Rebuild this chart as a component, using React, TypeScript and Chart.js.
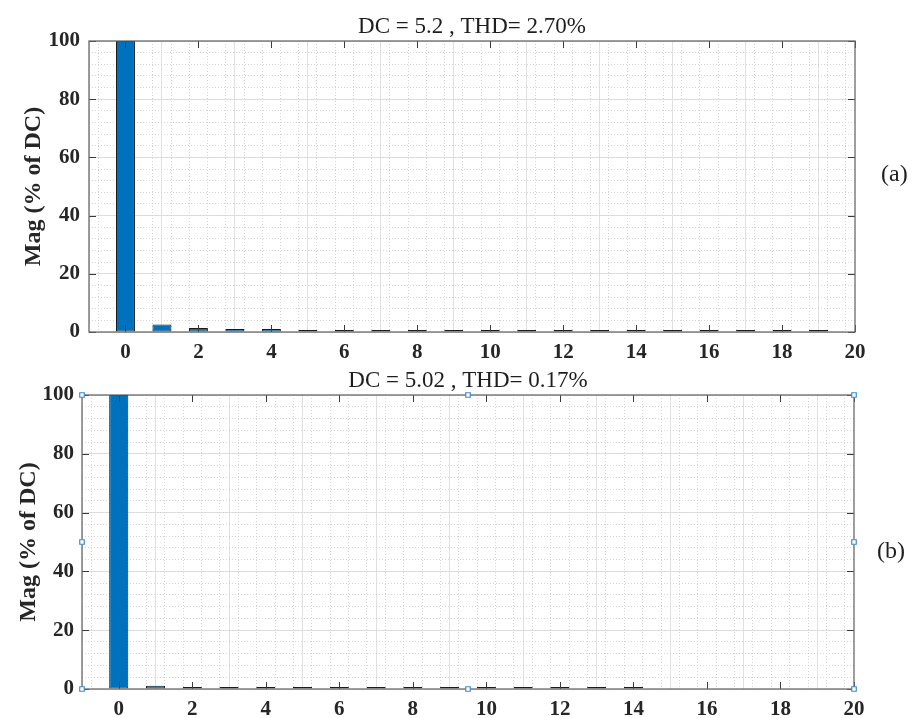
import React, { useEffect, useRef } from "react";
import { Chart, registerables } from "chart.js";

Chart.register(...registerables);

// Harmonic order on the x axis
const harmonicOrder = [0, 1, 2, 3, 4, 5, 6, 7, 8, 9, 10, 11, 12, 13, 14, 15, 16, 17, 18, 19];

// Magnitude of each harmonic, % of DC
const magnitudeA = [100, 2.6, 1.4, 1.0, 1.0, 0.7, 0.7, 0.7, 0.7, 0.7, 0.7, 0.7, 0.7, 0.7, 0.7, 0.7, 0.7, 0.7, 0.7, 0.7];
const magnitudeB = [100, 1.1, 0.7, 0.7, 0.7, 0.7, 0.7, 0.7, 0.7, 0.7, 0.7, 0.7, 0.7, 0.7, 0.7, 0, 0, 0, 0, 0];

const titleA = "DC = 5.2 , THD= 2.70%";
const titleB = "DC = 5.02 , THD= 0.17%";
const yAxisLabel = "Mag (% of DC)";

// Axis selection handles shown on the lower panel
const handleX = [-1, -1, -1, 9.5, 9.5, 20, 20, 20];
const handleY = [100, 50, 0, 100, 0, 100, 50, 0];

const X_MIN = -1;
const X_MAX = 20;
const Y_MIN = 0;
const Y_MAX = 100;

const SERIF = '"Liberation Serif", "Times New Roman", serif';

type PanelProps = {
  top: number;
  height: number;
  area: { left: number; right: number; top: number; bottom: number };
  values: number[];
  title: string;
  tag: string;
  tagX: number;
  tagY: number;
  yTitlePad: number;
  yTickPad: number;
  handles: boolean;
};

function Panel(props: PanelProps) {
  const ref = useRef<HTMLCanvasElement | null>(null);

  useEffect(() => {
    const canvas = ref.current;
    if (!canvas) return;
    const W = 913;
    const H = props.height;
    const a = props.area;

    // frame + inward tick marks, drawn right after the bars
    const framePlugin = {
      id: "frame",
      afterDatasetDraw(chart: any, args: any) {
        if (args.meta.type !== "bar") return;
        const { ctx, chartArea } = chart;
        const { left, right, top, bottom } = chartArea;
        const xs = chart.scales.x;
        const ys = chart.scales.y;
        ctx.save();
        ctx.strokeStyle = "#3a3a3a";
        ctx.lineWidth = 1;
        ctx.beginPath();
        for (let v = 0; v <= X_MAX; v += 2) {
          const px = Math.round(xs.getPixelForValue(v)) + 0.5;
          ctx.moveTo(px, bottom);
          ctx.lineTo(px, bottom - 7);
          ctx.moveTo(px, top);
          ctx.lineTo(px, top + 7);
        }
        for (let v = Y_MIN; v <= Y_MAX; v += 20) {
          const py = Math.round(ys.getPixelForValue(v)) + 0.5;
          ctx.moveTo(left, py);
          ctx.lineTo(left + 7, py);
          ctx.moveTo(right, py);
          ctx.lineTo(right - 7, py);
        }
        ctx.stroke();
        ctx.strokeStyle = "#6a6a6a";
        ctx.lineWidth = 1.3;
        ctx.strokeRect(left, top, right - left, bottom - top);
        ctx.restore();
      },
      afterDraw(chart: any) {
        const { ctx, chartArea } = chart;
        ctx.save();
        ctx.fillStyle = "#1e1e1e";
        ctx.font = `23px ${SERIF}`;
        ctx.textAlign = "center";
        ctx.textBaseline = "alphabetic";
        ctx.fillText(props.title, (chartArea.left + chartArea.right) / 2, chartArea.top - 8);
        ctx.font = `24px ${SERIF}`;
        ctx.textAlign = "left";
        ctx.fillText(props.tag, props.tagX, props.tagY);
        ctx.restore();
      },
    };

    const datasets: any[] = [];
    if (props.handles) {
      datasets.push({
        type: "scatter",
        data: handleX.map((x, i) => ({ x, y: handleY[i] })),
        pointStyle: "rect",
        pointRadius: 3.2,
        pointBackgroundColor: "#ffffff",
        pointBorderColor: "#3b8bd4",
        pointBorderWidth: 1.2,
        clip: false,
      });
    }
    datasets.push({
      type: "bar",
      data: harmonicOrder.map((x, i) => ({ x, y: props.values[i] })),
      backgroundColor: "#0072BD",
      borderColor: "#1b1b1b",
      borderWidth: 1,
      borderSkipped: false,
      barPercentage: 0.52,
      categoryPercentage: 1,
    });

    const chart = new Chart(canvas, {
      type: "bar",
      data: { datasets },
      plugins: [framePlugin],
      options: {
        responsive: false,
        maintainAspectRatio: false,
        animation: false,
        devicePixelRatio: 1,
        layout: {
          padding: { left: 0, right: W - a.right, top: a.top, bottom: 0 },
        },
        plugins: {
          legend: { display: false },
          title: { display: false },
          tooltip: { enabled: false },
        },
        scales: {
          x: {
            type: "linear",
            position: "bottom",
            min: X_MIN,
            max: X_MAX,
            offset: false,
            ticks: {
              stepSize: 2,
              includeBounds: false,
              padding: 8,
              color: "#262626",
              font: { family: SERIF, size: 21, weight: "bold" },
              maxRotation: 0,
            },
            grid: { color: "#e0e0e0", lineWidth: 1, drawTicks: false },
            border: { display: false },
            afterFit: (s: any) => {
              s.height = H - a.bottom;
            },
          },
          xMinor: {
            type: "linear",
            position: "bottom",
            min: X_MIN,
            max: X_MAX,
            offset: false,
            ticks: { stepSize: 0.5, display: false },
            grid: { color: "#d4d4d4", lineWidth: 1, drawTicks: false },
            border: { display: false, dash: [1, 2] },
            afterFit: (s: any) => {
              s.height = 0;
            },
          },
          y: {
            type: "linear",
            position: "left",
            min: Y_MIN,
            max: Y_MAX,
            ticks: {
              stepSize: 20,
              padding: props.yTickPad,
              color: "#262626",
              font: { family: SERIF, size: 21, weight: "bold" },
            },
            grid: { color: "#e0e0e0", lineWidth: 1, drawTicks: false },
            border: { display: false },
            title: {
              display: true,
              text: yAxisLabel,
              color: "#262626",
              font: { family: SERIF, size: 24, weight: "bold" },
              padding: { top: props.yTitlePad, bottom: 0 },
            },
            afterFit: (s: any) => {
              s.width = a.left;
            },
          },
          yMinor: {
            type: "linear",
            position: "left",
            min: Y_MIN,
            max: Y_MAX,
            ticks: { stepSize: 4, display: false },
            grid: { color: "#d4d4d4", lineWidth: 1, drawTicks: false },
            border: { display: false, dash: [1, 2] },
            afterFit: (s: any) => {
              s.width = 0;
            },
          },
        },
      } as any,
    });

    return () => chart.destroy();
  }, []);

  return (
    <canvas
      ref={ref}
      width={913}
      height={props.height}
      style={{
        position: "absolute",
        left: 0,
        top: props.top,
        width: 913,
        height: props.height,
        display: "block",
      }}
    />
  );
}

export default function App() {
  return (
    <div
      style={{
        position: "absolute",
        left: 0,
        top: 0,
        width: 913,
        height: 718,
        background: "#ffffff",
        overflow: "hidden",
      }}
    >
      <Panel
        top={0}
        height={360}
        area={{ left: 89, right: 855, top: 41, bottom: 332 }}
        values={magnitudeA}
        title={titleA}
        tag="(a)"
        tagX={881}
        tagY={181}
        yTitlePad={19}
        yTickPad={9}
        handles={false}
      />
      <Panel
        top={360}
        height={358}
        area={{ left: 82, right: 854, top: 35, bottom: 329 }}
        values={magnitudeB}
        title={titleB}
        tag="(b)"
        tagX={877}
        tagY={198}
        yTitlePad={14}
        yTickPad={8}
        handles={true}
      />
    </div>
  );
}
